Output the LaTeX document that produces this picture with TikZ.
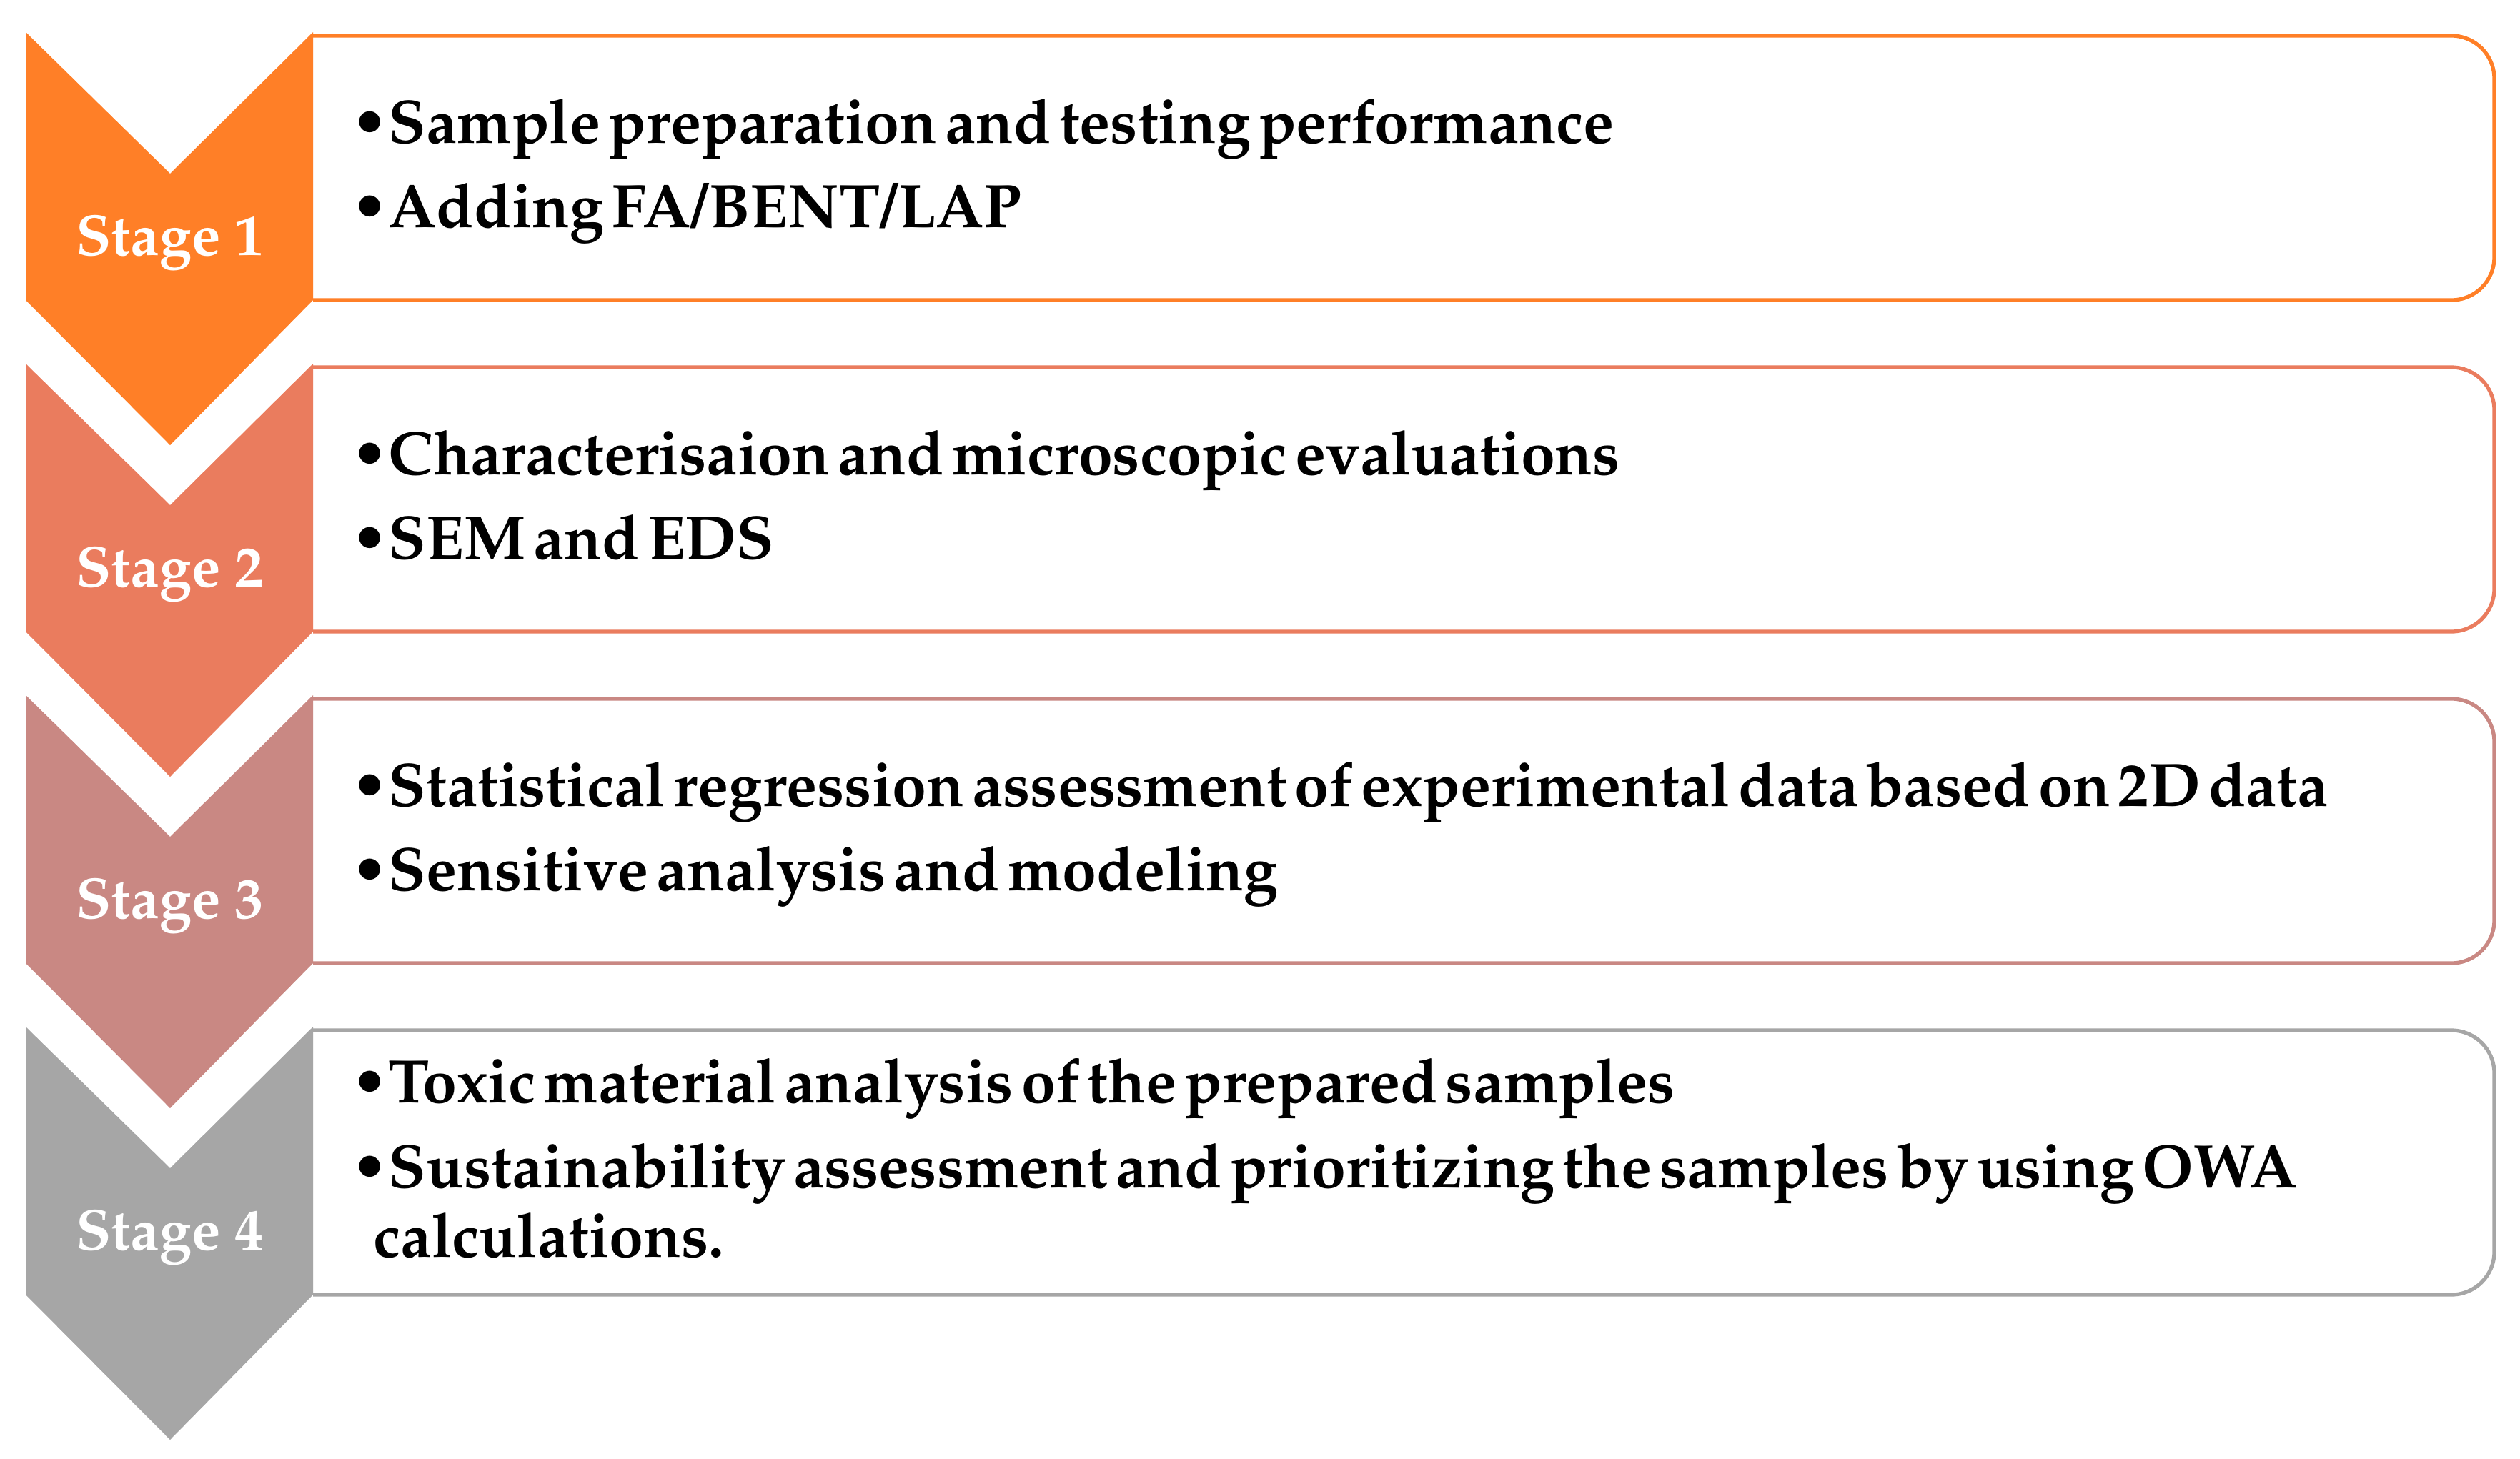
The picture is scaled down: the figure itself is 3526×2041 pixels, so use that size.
\documentclass[tikz,border=0pt]{standalone}
\usepackage[T1]{fontenc}
\usepackage{mathpazo}
\definecolor{cone}{RGB}{255,127,39}
\definecolor{ctwo}{RGB}{234,124,94}
\definecolor{cthree}{RGB}{201,136,131}
\definecolor{cfour}{RGB}{166,166,166}
\newcommand{\itemfont}{\fontsize{24.5}{29}\selectfont\bfseries\spaceskip=0.13em\relax}
\tikzset{
  item/.style={anchor=base west, inner sep=0pt, font=\itemfont},
  stagelbl/.style={text=white, inner sep=0pt, font=\fontsize{23}{28}\selectfont\bfseries}
}
\newcommand{\stagerow}[3]{%
  \fill[white,draw=#2, line width=1.5pt, rounded corners=0.6cm] (438,#1+5) -- (3490,#1+5) -- (3490,#1+375) -- (438,#1+375);
  \fill[#2] (36,#1) -- (238,#1+198) -- (438,#1) -- (438,#1+375) -- (238,#1+578) -- (36,#1+375) -- cycle;
  \node[stagelbl] (#3) at (238,#1+295) {Stage #3};
}
\begin{document}
\begin{tikzpicture}[x=0.01cm,y=-0.01cm]
\useasboundingbox[fill=white] (0,0) rectangle (3526,2041);
\stagerow{45}{cone}{1}
\stagerow{509}{ctwo}{2}
\stagerow{973}{cthree}{3}
\stagerow{1437}{cfour}{4}
\node[item] (t1a) at (491,200) {\textbullet Sample preparation and testing performance};
\node[item] (t1b) at (491,318) {\textbullet Adding FA/BENT/LAP};
\node[item] (t2a) at (491,664) {\textbullet Characterisaion and microscopic evaluations};
\node[item] (t2b) at (491,782) {\textbullet SEM and EDS};
\node[item] (t3a) at (491,1128) {\textbullet Statistical regression assessment of experimental data based on 2D data};
\node[item] (t3b) at (491,1246) {\textbullet Sensitive analysis and modeling};
\node[item] (t4a) at (491,1543) {\textbullet Toxic material analysis of the prepared samples};
\node[item] (t4b) at (491,1662) {\textbullet Sustainability assessment and prioritizing the samples by using OWA};
\node[item] (t4c) at (522,1759) {calculations.};
\end{tikzpicture}
\end{document}
